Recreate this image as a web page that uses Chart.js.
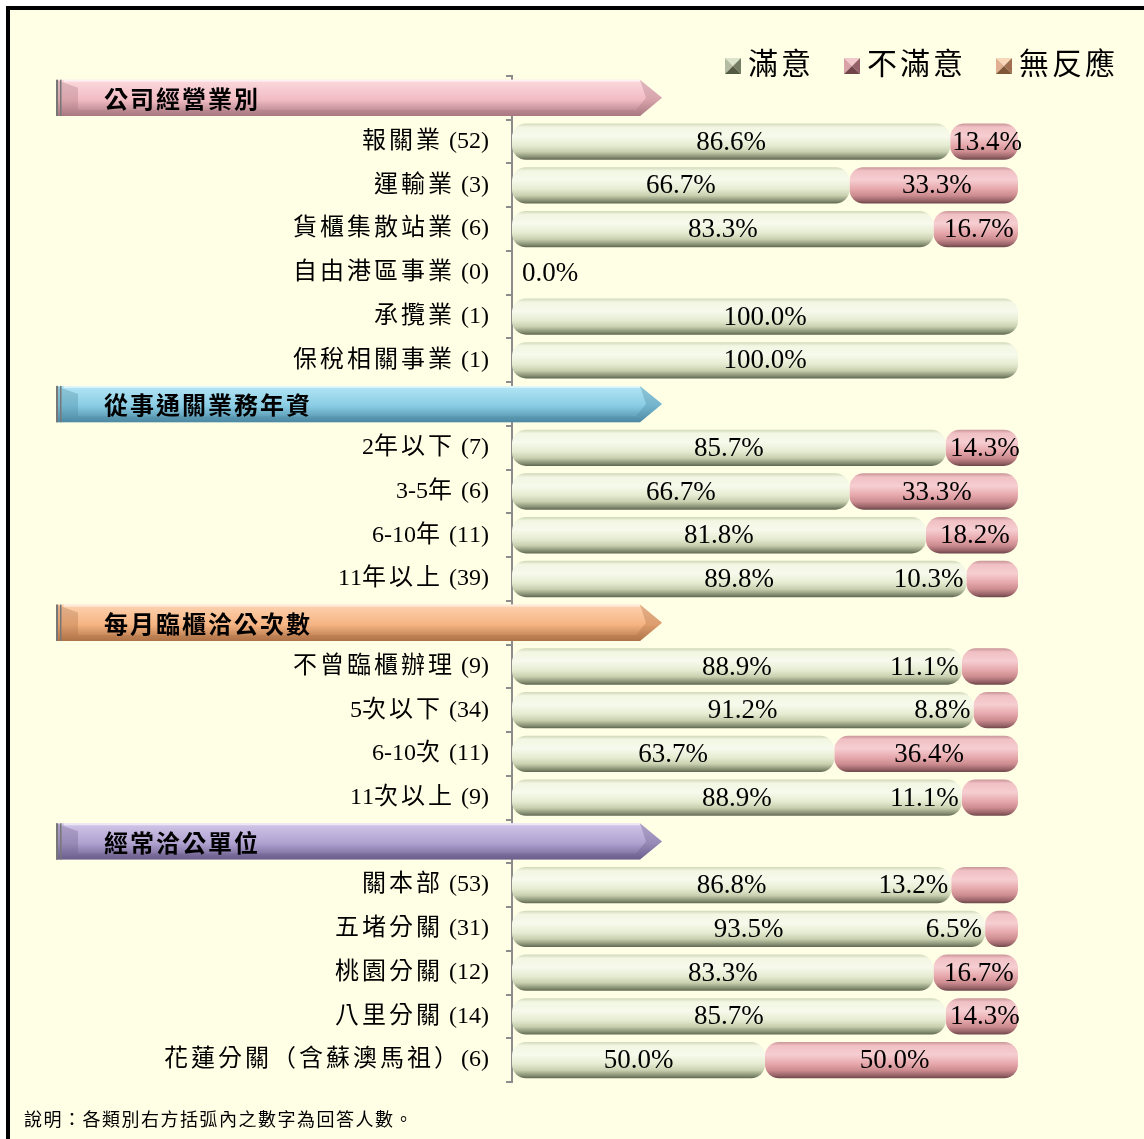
<!DOCTYPE html>
<html lang="zh-Hant">
<head>
<meta charset="utf-8">
<script src="https://cdn.jsdelivr.net/npm/chart.js@4.4.1/dist/chart.umd.min.js"></script>
<style>
  html, body { margin: 0; padding: 0; background: #fff; }
  body { width: 1144px; height: 1139px; position: relative; overflow: hidden; }
  #frame { position: absolute; left: 6px; top: 6px; width: 1200px; height: 1200px;
           border: 4px solid #000; background: #FFFFE6; }
  #wrap { position: absolute; left: 0; top: 0; width: 1144px; height: 1139px; }
  #note { position: absolute; left: 24px; top: 1105px; font-size: 18px; letter-spacing: 1.5px;
          font-family: "Liberation Serif", "Noto Sans CJK TC"; color: #000; }
</style>
</head>
<body>
<div id="frame"></div>
<div id="wrap"><canvas id="chart" width="1144" height="1139"></canvas></div>
<div id="note">說明：各類別右方括弧內之數字為回答人數。</div>
<script>
const categories = [
  "公司經營業別",
  "報關業 (52)", "運輸業 (3)", "貨櫃集散站業 (6)", "自由港區事業 (0)", "承攬業 (1)", "保稅相關事業 (1)",
  "從事通關業務年資",
  "2年以下 (7)", "3-5年 (6)", "6-10年 (11)", "11年以上 (39)",
  "每月臨櫃洽公次數",
  "不曾臨櫃辦理 (9)", "5次以下 (34)", "6-10次 (11)", "11次以上 (9)",
  "經常洽公單位",
  "關本部 (53)", "五堵分關 (31)", "桃園分關 (12)", "八里分關 (14)", "花蓮分關（含蘇澳馬祖）(6)"
];
const headerRows = [0, 7, 12, 17];

const satisfied    = [null, 86.6, 66.7, 83.3, 0, 100, 100, null, 85.7, 66.7, 81.8, 89.8, null, 88.9, 91.2, 63.7, 88.9, null, 86.8, 93.5, 83.3, 85.7, 50.0];
const dissatisfied = [null, 13.4, 33.3, 16.7, 0, 0, 0, null, 14.3, 33.3, 18.2, 10.3, null, 11.1, 8.8, 36.4, 11.1, null, 13.2, 6.5, 16.7, 14.3, 50.0];
const noResponse   = [null, 0, 0, 0, 0, 0, 0, null, 0, 0, 0, 0, null, 0, 0, 0, 0, null, 0, 0, 0, 0, 0];

const seriesNames = ["滿意", "不滿意", "無反應"];

// banner colours: light, mid, dark
const headerColors = [
  ["#FBDADE", "#F2BCC3", "#A87880"],
  ["#B4E6F4", "#88CCE4", "#4E8AA4"],
  ["#FDD2B0", "#F6B482", "#B07448"],
  ["#D2C6E8", "#B0A2D0", "#6C5E8C"]
];
const greenStops = [[0, "#D0D8B8"], [0.1, "#F2F6E2"], [0.35, "#F7FAEC"], [0.6, "#E6ECD2"], [0.78, "#C8D0B0"], [0.92, "#8A9276"], [1, "#5E6650"]];
const pinkStops  = [[0, "#C89498"], [0.1, "#F0C0C4"], [0.35, "#F6CED1"], [0.6, "#E6A8AC"], [0.78, "#CC8C90"], [0.92, "#986468"], [1, "#6C4448"]];
const orangeStops = [[0, "#D8A880"], [0.25, "#FAD2B0"], [0.6, "#F0B488"], [1, "#906040"]];
const legendMarks = [
  ["#DCE4CC", "#B4BCA4", "#747C64", "#525A44"],
  ["#F2CACE", "#D8A2A8", "#946268", "#704448"],
  ["#F8D8B8", "#E0B090", "#A07050", "#805838"]
];

const BAR_FRAC = 0.83;

function rowStep(ys) {
  return Math.abs(ys.getPixelForValue(1) - ys.getPixelForValue(0));
}

function cylinder(stops, fallback) {
  return c => {
    const chart = c.chart, ys = chart.scales.y;
    if (!chart.chartArea || !ys || c.dataIndex == null) return fallback;
    const h = rowStep(ys) * BAR_FRAC;
    const cy = ys.getPixelForValue(c.dataIndex);
    const g = chart.ctx.createLinearGradient(0, cy - h / 2, 0, cy + h / 2);
    stops.forEach(([o, col]) => g.addColorStop(o, col));
    return g;
  };
}

const isCJK = ch => /[\u3000-\u9fff\uff00-\uffef]/.test(ch);

// draw text right-aligned, with extra space after CJK characters
function drawSpaced(ctx, text, right, y, gap) {
  const chars = [...text];
  const widths = chars.map(ch => ctx.measureText(ch).width + (isCJK(ch) ? gap : 0));
  let x = right - widths.reduce((a, b) => a + b, 0);
  chars.forEach((ch, i) => { ctx.fillText(ch, x, y); x += widths[i]; });
}

const categoryLabelPlugin = {
  id: "categoryLabels",
  afterDraw(chart) {
    const ctx = chart.ctx, ys = chart.scales.y;
    ctx.save();
    ctx.font = '24px "Liberation Serif", "Noto Sans CJK TC"';
    ctx.fillStyle = "#000";
    ctx.textBaseline = "middle";
    ctx.textAlign = "left";
    categories.forEach((cat, i) => {
      if (headerRows.includes(i)) return;
      drawSpaced(ctx, cat, ys.left + ys.width - 23, ys.getPixelForValue(i), 3);
    });
    ctx.restore();
  }
};

const bannerPlugin = {
  id: "banners",
  afterDatasetsDraw(chart) {
    const ctx = chart.ctx, ys = chart.scales.y;
    const h = rowStep(ys) * BAR_FRAC;
    headerRows.forEach((row, k) => {
      const cy = ys.getPixelForValue(row);
      const top = cy - h / 2, bot = cy + h / 2;
      const x0 = 56, x1 = 640, xt = 662;
      const [light, mid, dark] = headerColors[k];
      ctx.save();
      const g = ctx.createLinearGradient(0, top, 0, bot);
      g.addColorStop(0, light);
      g.addColorStop(0.55, mid);
      g.addColorStop(1, dark);
      ctx.beginPath();
      ctx.moveTo(x0, top); ctx.lineTo(x1, top); ctx.lineTo(xt, cy);
      ctx.lineTo(x1, bot); ctx.lineTo(x0, bot); ctx.closePath();
      ctx.fillStyle = g;
      ctx.fill();
      // bevels
      ctx.globalAlpha = 0.35;
      ctx.fillStyle = dark;
      ctx.beginPath();
      ctx.moveTo(x0, top); ctx.lineTo(x0 + 22, top + 8); ctx.lineTo(x0 + 22, bot - 6);
      ctx.lineTo(x0, bot); ctx.closePath(); ctx.fill();
      ctx.beginPath();
      ctx.moveTo(x0, bot); ctx.lineTo(x0 + 22, bot - 6); ctx.lineTo(x1 - 4, bot - 6);
      ctx.lineTo(x1, bot); ctx.closePath(); ctx.fill();
      ctx.beginPath();
      ctx.moveTo(x1, top); ctx.lineTo(xt, cy); ctx.lineTo(x1, bot); ctx.lineTo(x1 - 4, bot - 6);
      ctx.lineTo(x1 + 6, cy); ctx.closePath(); ctx.fill();
      ctx.globalAlpha = 0.6;
      ctx.fillStyle = "#fff";
      ctx.fillRect(x0 + 8, top, x1 - x0 - 8, 2);
      ctx.globalAlpha = 1;
      ctx.fillStyle = "#777";
      ctx.fillRect(x0, top, 2, h);
      ctx.fillRect(x0 + 4, top, 1.5, h);
      ctx.font = 'bold 24px "Noto Sans CJK TC"';
      ctx.letterSpacing = "2px";
      ctx.fillStyle = "#000";
      ctx.textBaseline = "middle";
      ctx.textAlign = "left";
      ctx.fillText(categories[row], 104, cy + 1);
      ctx.restore();
    });
  }
};

const labelPlugin = {
  id: "valueLabels",
  afterDatasetsDraw(chart) {
    const ctx = chart.ctx, area = chart.chartArea;
    const g = chart.getDatasetMeta(0), p = chart.getDatasetMeta(1);
    ctx.save();
    ctx.font = '27px "Liberation Serif"';
    ctx.fillStyle = "#000";
    ctx.textBaseline = "middle";
    categories.forEach((cat, i) => {
      if (headerRows.includes(i)) return;
      const ge = g.data[i], pe = p.data[i];
      const gv = satisfied[i], pv = dissatisfied[i];
      const y = ge.y + 1;
      if (gv === 0) {
        ctx.textAlign = "left";
        ctx.fillText(gv.toFixed(1) + "%", ge.base + 10, y);
      } else {
        ctx.textAlign = "center";
        ctx.fillText(gv.toFixed(1) + "%", (ge.base + ge.x) / 2, y);
      }
      if (pv > 0) {
        const txt = pv.toFixed(1) + "%";
        if (pv < 13.3) {
          ctx.textAlign = "right";
          ctx.fillText(txt, pe.base - 3, y);
        } else {
          ctx.textAlign = "center";
          ctx.fillText(txt, (pe.base + Math.min(pe.x, area.right)) / 2 + 3, y);
        }
      }
    });
    ctx.restore();
  }
};

function drawMarker(ctx, x, y, s, cols) {
  const cx = x + s / 2, cy = y + s / 2;
  const tri = (ax, ay, bx, by, col) => {
    ctx.beginPath(); ctx.moveTo(ax, ay); ctx.lineTo(bx, by); ctx.lineTo(cx, cy); ctx.closePath();
    ctx.fillStyle = col; ctx.fill();
  };
  tri(x, y, x + s, y, cols[0]);
  tri(x, y, x, y + s, cols[1]);
  tri(x + s, y, x + s, y + s, cols[2]);
  tri(x, y + s, x + s, y + s, cols[3]);
}

const legendPlugin = {
  id: "legendRight",
  afterDraw(chart) {
    const ctx = chart.ctx;
    ctx.save();
    ctx.font = '30px "Liberation Serif", "Noto Sans CJK TC"';
    ctx.letterSpacing = "3px";
    ctx.textBaseline = "middle";
    ctx.textAlign = "left";
    const cy = 66;
    let x = 1118;
    for (let i = seriesNames.length - 1; i >= 0; i--) {
      const w = ctx.measureText(seriesNames[i]).width;
      x -= w;
      ctx.fillStyle = "#000";
      ctx.fillText(seriesNames[i], x, cy);
      x -= 7 + 16;
      drawMarker(ctx, x, cy - 8, 16, legendMarks[i]);
      x -= 30;
    }
    ctx.restore();
  }
};

const round = { topLeft: 14, topRight: 14, bottomLeft: 14, bottomRight: 14 };

new Chart(document.getElementById("chart"), {
  type: "bar",
  data: {
    labels: categories,
    datasets: [
      { label: seriesNames[0], data: satisfied,    backgroundColor: cylinder(greenStops, "#E2E9CC") },
      { label: seriesNames[1], data: dissatisfied, backgroundColor: cylinder(pinkStops, "#E4A4A8") },
      { label: seriesNames[2], data: noResponse,   backgroundColor: cylinder(orangeStops, "#F0B488") }
    ]
  },
  options: {
    indexAxis: "y",
    responsive: false,
    animation: false,
    events: [],
    datasets: {
      bar: {
        barPercentage: BAR_FRAC,
        categoryPercentage: 1,
        borderRadius: round,
        borderSkipped: false,
        borderWidth: 0
      }
    },
    layout: { padding: { top: 76, right: 126, bottom: 57, left: 0 } },
    plugins: {
      legend: { display: false },
      tooltip: { enabled: false }
    },
    scales: {
      x: { stacked: true, display: false, min: 0, max: 100 },
      y: {
        stacked: true,
        grid: { offset: true, drawOnChartArea: false, drawTicks: true, tickLength: 6, color: "#8c8c8c", lineWidth: 2 },
        border: { display: true, color: "#8c8c8c", width: 2 },
        ticks: { autoSkip: false, callback: () => "" },
        afterFit: s => { s.width = 512; }
      }
    }
  },
  plugins: [bannerPlugin, labelPlugin, categoryLabelPlugin, legendPlugin]
});
</script>
</body>
</html>
